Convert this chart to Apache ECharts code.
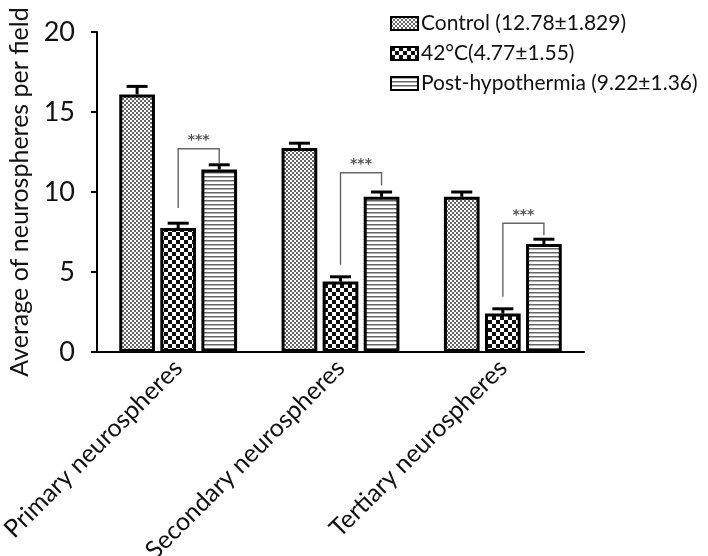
<!DOCTYPE html>
<html><head><meta charset="utf-8">
<script src="https://cdn.jsdelivr.net/npm/echarts@6/dist/echarts.min.js"></script>
<style>html,body{margin:0;padding:0;background:#fff}#c{width:708px;height:556px}</style>
</head><body><div id="c"></div>
<script>
const categories = ['Primary neurospheres', 'Secondary neurospheres', 'Tertiary neurospheres'];
const seriesNames = ['Control (12.78\u00b11.829)', '42\u00b0C(4.77\u00b11.55)', 'Post-hypothermia (9.22\u00b11.36)'];
const controlVals = [16.1, 12.75, 9.7];
const heatVals = [7.75, 4.4, 2.4];
const postVals = [11.4, 9.7, 6.75];
const controlErr = [0.5, 0.3, 0.3];
const heatErr = [0.3, 0.3, 0.3];
const postErr = [0.3, 0.3, 0.3];
// significance brackets: [category, top, leftLegBottom, rightLegBottom]
const brackets = [[0, 12.7, 9.0, 11.8], [1, 11.2, 5.45, 10.4], [2, 8.05, 3.45, 7.3]];
const sigLabel = '***';
const yTicks = [0, 5, 10, 15, 20];

function pattern(kind) {
  const c = document.createElement('canvas');
  const ctx = c.getContext('2d');
  if (kind === 'fine') {
    c.width = 4; c.height = 4;
    ctx.fillStyle = '#fff'; ctx.fillRect(0, 0, 4, 4);
    ctx.fillStyle = '#666'; ctx.fillRect(0, 0, 2, 2); ctx.fillRect(2, 2, 2, 2);
  } else if (kind === 'check') {
    c.width = 8; c.height = 8;
    ctx.fillStyle = '#fff'; ctx.fillRect(0, 0, 8, 8);
    ctx.fillStyle = '#111'; ctx.fillRect(0, 0, 4, 4); ctx.fillRect(4, 4, 4, 4);
  } else {
    c.width = 4; c.height = 4;
    ctx.fillStyle = '#fff'; ctx.fillRect(0, 0, 4, 4);
    ctx.fillStyle = '#666'; ctx.fillRect(0, 0, 4, 1.5);
  }
  return { image: c, repeat: 'repeat' };
}
const pats = [pattern('fine'), pattern('check'), pattern('stripes')];
const vals = [controlVals, heatVals, postVals];
const errs = [controlErr, heatErr, postErr];

const BW = 0.22, GAP = 0.15;
function offsetFor(idx, band) {
  const bw = band * BW;
  return (idx - 1) * (bw + bw * GAP);
}

const chart = echarts.init(document.getElementById('c'));
const FONT = 'Lato';
const series = [];
vals.forEach((v, i) => {
  series.push({
    name: seriesNames[i], type: 'bar', data: v,
    barWidth: (BW * 100) + '%', barGap: (GAP * 100) + '%',
    itemStyle: { color: pats[i], borderColor: '#000', borderWidth: 3 },
    z: 2
  });
});
vals.forEach((v, i) => {
  series.push({
    type: 'custom', z: 3, silent: true,
    data: v.map((y, k) => [k, y, errs[i][k]]),
    renderItem: function (params, api) {
      const band = api.size([1, 0])[0];
      const off = offsetFor(i, band);
      const base = api.coord([api.value(0), api.value(1)]);
      const top = api.coord([api.value(0), api.value(1) + api.value(2)]);
      const x = base[0] + off;
      const cap = 10.5;
      return {
        type: 'group', children: [
          { type: 'line', shape: { x1: x, y1: base[1], x2: x, y2: top[1] }, style: { stroke: '#000', lineWidth: 3 } },
          { type: 'line', shape: { x1: x - cap, y1: top[1], x2: x + cap, y2: top[1] }, style: { stroke: '#000', lineWidth: 3 } }
        ]
      };
    }
  });
});
series.push({
  type: 'custom', z: 4, silent: true,
  data: brackets,
  renderItem: function (params, api) {
    const band = api.size([1, 0])[0];
    const c = api.value(0);
    const xl = api.coord([c, 0])[0] + offsetFor(1, band);
    const xr = api.coord([c, 0])[0] + offsetFor(2, band);
    const yt = api.coord([c, api.value(1)])[1];
    const yl = api.coord([c, api.value(2)])[1];
    const yr = api.coord([c, api.value(3)])[1];
    return {
      type: 'group', children: [
        { type: 'polyline', shape: { points: [[xl, yl], [xl, yt], [xr, yt], [xr, yr]] }, style: { stroke: '#666', lineWidth: 1.4, fill: null } },
        { type: 'text', style: { text: sigLabel, x: (xl + xr) / 2, y: yt - 1, align: 'center', verticalAlign: 'bottom', fill: '#555', font: 'bold 14px DejaVu Sans' } }
      ]
    };
  }
});

chart.setOption({
  animation: false,
  backgroundColor: '#fff',
  textStyle: { fontFamily: FONT },
  grid: { left: 97, right: 124, top: 32, bottom: 204, containLabel: false, outerBoundsMode: 'none' },
  legend: {
    orient: 'vertical', left: 385, top: 8, itemGap: 9,
    icon: 'rect', itemWidth: 27, itemHeight: 13,
    data: seriesNames,
    textStyle: { fontFamily: FONT, fontSize: 21, color: '#111', padding: [0, 0, 0, -2] }
  },
  xAxis: {
    type: 'category', data: categories,
    axisLine: { lineStyle: { color: '#000', width: 2 } },
    axisTick: { alignWithLabel: true, length: 5, lineStyle: { color: '#000', width: 2 } },
    axisLabel: { rotate: 45, fontSize: 25, color: '#111', margin: 12, fontFamily: FONT }
  },
  yAxis: {
    type: 'value', min: 0, max: 20, interval: 5,
    name: 'Average of neurospheres per field', nameLocation: 'middle', nameGap: 56,
    nameTextStyle: { fontSize: 25, color: '#111', fontFamily: FONT },
    axisLine: { show: true, lineStyle: { color: '#000', width: 2 } },
    axisTick: { show: true, length: 6, lineStyle: { color: '#000', width: 2 } },
    axisLabel: { fontSize: 27, color: '#111', margin: 22, fontFamily: FONT, formatter: v => yTicks.includes(v) ? String(v) : '' },
    splitLine: { show: false }
  },
  series: series
});
</script></body></html>
